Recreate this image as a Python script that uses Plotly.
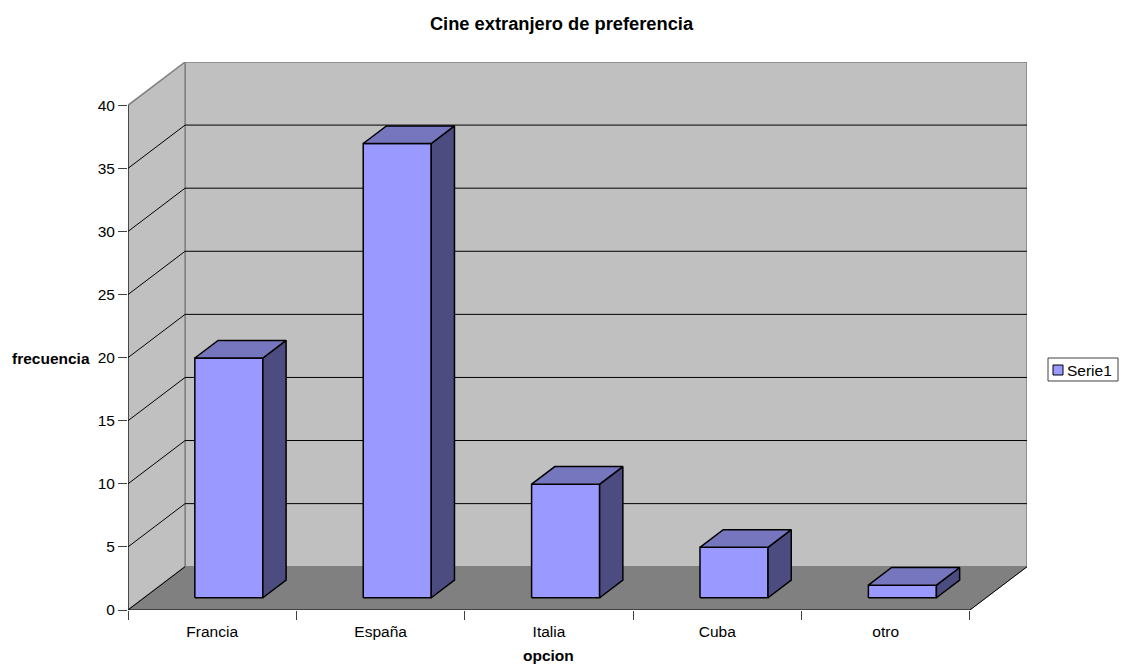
import plotly.graph_objects as go

categories = ["Francia", "España", "Italia", "Cuba", "otro"]
values = [19, 36, 9, 4, 1]
y_ticks = [0, 5, 10, 15, 20, 25, 30, 35, 40]
series_name = "Serie1"

# oblique projection of the 3D column chart, in axis units
DEPTH_X = 0.339
DEPTH_Y = 3.43
BAR_WIDTH = 0.404
BAR_SHIFT = 0.003
BAR_NEAR = 0.283
BAR_FAR = 0.690

FRONT = "#9999FF"
SIDE = "#4C4C80"
TOP = "#7676BE"
WALL = "#C0C0C0"
FLOOR = "#808080"
TICK = "#404040"
FONT = "Liberation Sans, Arial, sans-serif"

PLOT_L, PLOT_R, PLOT_T, PLOT_B = 128, 1027, 62, 610

n = len(categories)
ymax = y_ticks[-1]


def px(x):
    return (x - PLOT_L) / (PLOT_R - PLOT_L)


def py(y):
    return 1 - (y - PLOT_T) / (PLOT_B - PLOT_T)


def pt(x, v, d):
    return x + d * DEPTH_X, v + d * DEPTH_Y


def poly(points, fill=None, line="black", width=1.0, name=None):
    xs = [p[0] for p in points]
    ys = [p[1] for p in points]
    if fill is not None:
        xs.append(xs[0])
        ys.append(ys[0])
    return go.Scatter(
        x=xs, y=ys, mode="lines", fill="toself" if fill else "none",
        fillcolor=fill, line=dict(color=line, width=width),
        showlegend=False, hoverinfo="skip", cliponaxis=False, name=name,
    )


fig = go.Figure()

# walls and floor
fig.add_trace(poly([pt(0, 0, 1), pt(n, 0, 1), pt(n, ymax, 1), pt(0, ymax, 1)], WALL, FLOOR, 1.5))
fig.add_trace(poly([pt(0, 0, 0), pt(0, 0, 1), pt(0, ymax, 1), pt(0, ymax, 0)], WALL, FLOOR, 1.5))
fig.add_trace(poly([pt(0, 0, 0), pt(n, 0, 0), pt(n, 0, 1), pt(0, 0, 1)], FLOOR, FLOOR, 1))

# gridlines
for v in y_ticks[1:-1]:
    fig.add_trace(poly([pt(0, v, 0), pt(0, v, 1), pt(n, v, 1)], width=1))

# frame edges
fig.add_trace(poly([pt(0, 0, 1), pt(0, 0, 0), pt(0, ymax, 0)], width=1))
fig.add_trace(poly([pt(0, 0, 0), pt(n, 0, 0), pt(n, 0, 1)], width=1))

# columns
for i, v in enumerate(values):
    left = i + (1 - BAR_WIDTH) / 2 + BAR_SHIFT
    right = left + BAR_WIDTH
    fig.add_trace(poly([pt(left, 0, BAR_NEAR), pt(right, 0, BAR_NEAR),
                        pt(right, v, BAR_NEAR), pt(left, v, BAR_NEAR)], FRONT, "black", 1.5, series_name))
    fig.add_trace(poly([pt(right, 0, BAR_NEAR), pt(right, 0, BAR_FAR),
                        pt(right, v, BAR_FAR), pt(right, v, BAR_NEAR)], SIDE, "black", 1.5))
    fig.add_trace(poly([pt(left, v, BAR_NEAR), pt(right, v, BAR_NEAR),
                        pt(right, v, BAR_FAR), pt(left, v, BAR_FAR)], TOP, "black", 1.5))

fig.update_layout(
    width=1123, height=667,
    margin=dict(l=PLOT_L, r=1123 - PLOT_R, t=PLOT_T, b=667 - PLOT_B, autoexpand=False),
    paper_bgcolor="white", plot_bgcolor="white",
    font=dict(family=FONT, size=15.5, color="black"),
    showlegend=False,
    title=dict(text="<b>Cine extranjero de preferencia</b>", x=0.5, xanchor="center",
               y=1 - 24 / 667, yanchor="middle", font=dict(family=FONT, size=18.3)),
    xaxis=dict(
        range=[0, n + DEPTH_X], tickmode="array", tickvals=[i + 0.5 for i in range(n)],
        ticktext=categories, ticks="outside", ticklen=7, tickcolor="rgba(0,0,0,0)",
        showgrid=False, zeroline=False, showline=False, tickfont=dict(size=15.5),
        minor=dict(tickmode="array", tickvals=list(range(n + 1)), ticks="outside",
                   ticklen=9, tickcolor=TICK, tickwidth=1, showgrid=False),
    ),
    yaxis=dict(
        range=[0, ymax + DEPTH_Y], tickmode="array", tickvals=y_ticks,
        ticks="outside", ticklen=9, tickcolor=TICK, tickwidth=1,
        showgrid=False, zeroline=False, showline=False, tickfont=dict(size=15.5),
    ),
    annotations=[
        dict(text="<b>opcion</b>", x=n / 2, xref="x", y=py(655), yref="paper",
             xanchor="center", yanchor="middle", showarrow=False, font=dict(size=15.5)),
        dict(text="<b>frecuencia</b>", x=px(51), xref="paper", y=py(358), yref="paper",
             xanchor="center", yanchor="middle", showarrow=False, font=dict(size=15.5)),
        dict(text=series_name, x=px(1065), xref="paper", y=py(370), yref="paper",
             xanchor="left", yanchor="middle", showarrow=False, font=dict(size=15.5)),
    ],
    shapes=[
        dict(type="rect", xref="paper", yref="paper", x0=px(1048), x1=px(1118),
             y0=py(381), y1=py(358), line=dict(color=TICK, width=1), fillcolor="white"),
        dict(type="rect", xref="paper", yref="paper", x0=px(1053), x1=px(1063),
             y0=py(375), y1=py(365), line=dict(color="black", width=1), fillcolor=FRONT),
    ],
)

fig.write_html("out.html", post_script="document.body.style.margin='0';",
               config=dict(displayModeBar=False))
